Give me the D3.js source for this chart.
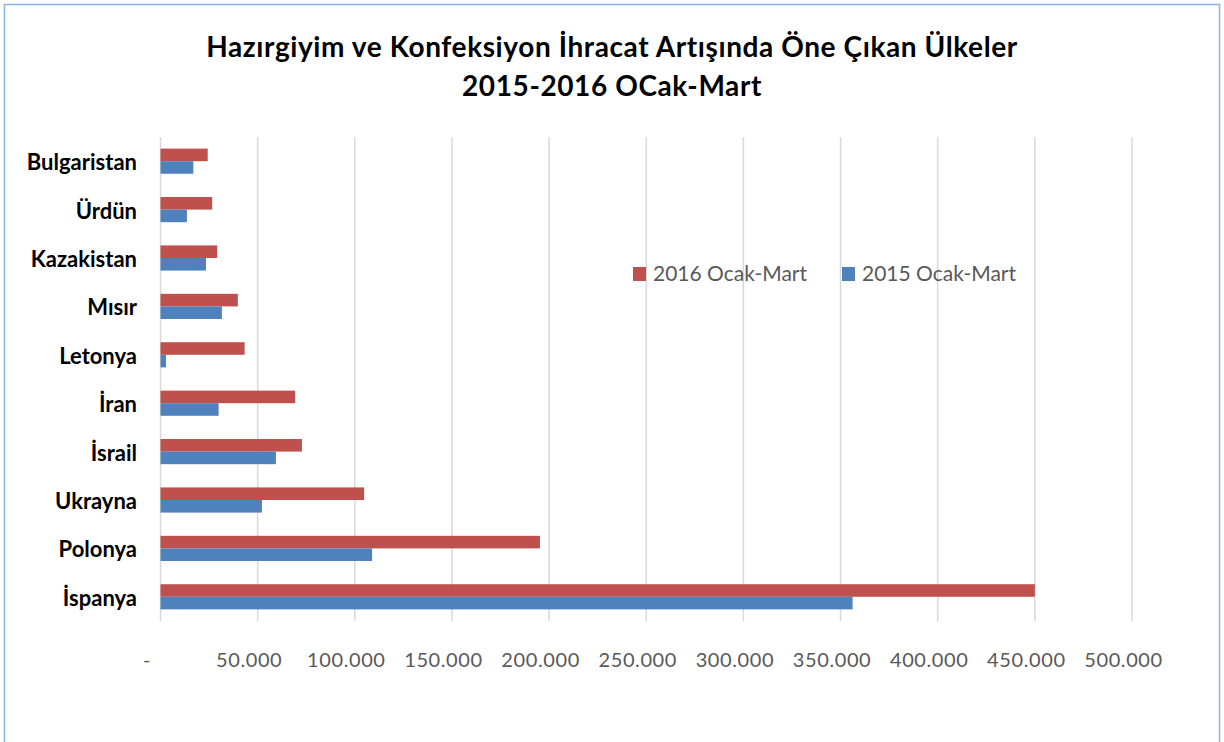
<!DOCTYPE html>
<html>
<head>
<meta charset="utf-8">
<script src="https://cdn.jsdelivr.net/npm/d3@7"></script>
<style>
  body { margin: 0; background: #fff; }
  svg { display: block; }
</style>
</head>
<body>
<div id="chart"></div>
<script>
// countries, top to bottom as drawn
const countries = ['Bulgaristan', 'Ürdün', 'Kazakistan', 'Mısır', 'Letonya', 'İran', 'İsrail', 'Ukrayna', 'Polonya', 'İspanya'];
const seriesNames = ['2016 Ocak-Mart', '2015 Ocak-Mart'];
const values2016 = [24300, 26600, 29200, 39800, 43300, 69300, 72800, 104800, 195300, 450000];
const values2015 = [16900, 13600, 23400, 31600, 2800, 29900, 59400, 52200, 108900, 356200];
const xTicks = [0, 50000, 100000, 150000, 200000, 250000, 300000, 350000, 400000, 450000, 500000];
const colors = ['#C0504D', '#4F81BD'];

let width = 1224;
let height = 742;
let font = 'Lato, "Open Sans", sans-serif';

let svg = d3.select('#chart')
    .append('svg')
    .attr('width', width)
    .attr('height', height);

// outer frame
svg.append('rect')
    .attr('x', 4.5).attr('y', 4.5)
    .attr('width', 1215).attr('height', 760)
    .attr('fill', 'none')
    .attr('stroke', '#8EB4E3')
    .attr('stroke-width', 1.5);

// title
let title = svg.append('text')
    .attr('text-anchor', 'middle')
    .attr('font-family', font)
    .attr('font-weight', 'bold')
    .attr('font-size', 28)
    .attr('letter-spacing', 0.6)
    .attr('fill', '#000');
title.append('tspan').attr('x', 612).attr('y', 57)
    .text('Hazırgiyim ve Konfeksiyon İhracat Artışında Öne Çıkan Ülkeler');
title.append('tspan').attr('x', 612).attr('y', 96)
    .text('2015-2016 OCak-Mart');

let x = d3.scaleLinear()
    .domain([0, 500000])
    .range([160.5, 1132]);

let y = d3.scaleBand()
    .domain(countries)
    .range([137, 621])
    .paddingInner(0.48)
    .paddingOuter(0.24);

let ySub = d3.scaleBand()
    .domain(seriesNames)
    .range([0, y.bandwidth()]);

// gridlines
svg.append('g')
    .selectAll('line')
    .data(xTicks)
    .enter()
    .append('line')
    .attr('x1', d => x(d)).attr('x2', d => x(d))
    .attr('y1', 137).attr('y2', 621)
    .attr('stroke', '#D9D9D9')
    .attr('stroke-width', 1.5);

// x axis labels
let xAxis = svg.append('g')
    .attr('transform', 'translate(0,621)')
    .call(d3.axisBottom(x)
        .tickValues(xTicks)
        .tickSize(0)
        .tickPadding(32)
        .tickFormat(d => d === 0 ? '-' : d3.format(',')(d).replace(/,/g, '.')));
xAxis.select('.domain').remove();
xAxis.selectAll('text')
    .attr('font-family', font)
    .attr('font-size', 20)
    .attr('letter-spacing', 0.6)
    .attr('fill', '#595959')
    .attr('dx', d => d === 0 ? -14 : -9);

// y axis labels
let yAxis = svg.append('g')
    .attr('transform', 'translate(137,2)')
    .call(d3.axisLeft(y).tickSize(0).tickPadding(0));
yAxis.select('.domain').remove();
yAxis.selectAll('text')
    .attr('font-family', font)
    .attr('font-weight', 'bold')
    .attr('font-size', 22)
    .attr('fill', '#000');

// bars
let rows = countries.map((c, i) => ({ name: c, vals: [values2016[i], values2015[i]] }));

let groups = svg.append('g')
    .selectAll('g')
    .data(rows)
    .enter()
    .append('g')
    .attr('transform', d => 'translate(0,' + y(d.name) + ')');

groups.selectAll('rect')
    .data(d => d.vals.map((v, j) => ({ key: seriesNames[j], value: v, color: colors[j] })))
    .enter()
    .append('rect')
    .attr('x', x(0))
    .attr('y', d => ySub(d.key))
    .attr('width', d => x(d.value) - x(0))
    .attr('height', ySub.bandwidth())
    .attr('fill', d => d.color);

// legend
let legend = svg.append('g')
    .selectAll('g')
    .data(seriesNames)
    .enter()
    .append('g')
    .attr('transform', (d, i) => 'translate(' + [633, 842][i] + ',267)');

legend.append('rect')
    .attr('width', 13).attr('height', 14)
    .attr('fill', (d, i) => colors[i]);

legend.append('text')
    .attr('x', 20).attr('y', 7)
    .attr('dy', '0.35em')
    .attr('font-family', font)
    .attr('font-size', 21)
    .attr('fill', '#595959')
    .text(d => d);
</script>
</body>
</html>
